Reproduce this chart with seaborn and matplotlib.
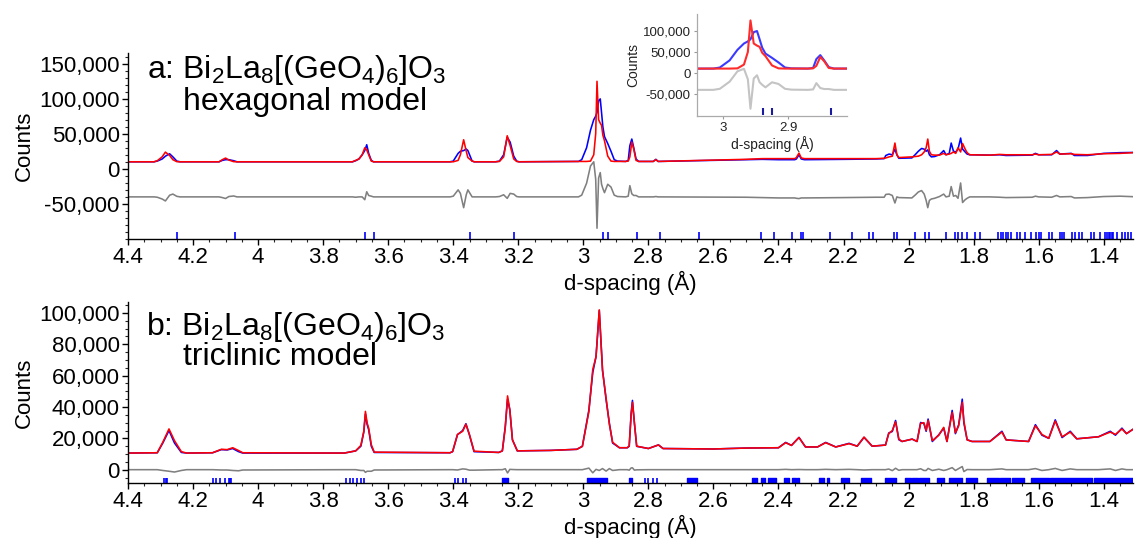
import numpy as np
import matplotlib
matplotlib.use("Agg")
import matplotlib.pyplot as plt
import seaborn as sns
from matplotlib.ticker import FuncFormatter, MultipleLocator

# ---------------- Panel a: hexagonal model ----------------
d_a = [4.40, 4.32, 4.31, 4.295, 4.285, 4.272, 4.262, 4.25, 4.24,
       4.12, 4.11, 4.10, 4.09, 4.075, 4.065,
       3.71, 3.70, 3.69, 3.68, 3.672, 3.666, 3.66, 3.652, 3.645,
       3.41, 3.40, 3.385, 3.378, 3.368, 3.36, 3.355, 3.342, 3.335,
       3.27, 3.258, 3.245, 3.234, 3.225, 3.214, 3.205, 3.198,
       3.015, 3.005, 2.99, 2.978, 2.968, 2.962, 2.958, 2.953, 2.948, 2.944,
       2.94, 2.935, 2.925, 2.915, 2.905, 2.895,
       2.87, 2.862, 2.857, 2.851, 2.845, 2.838, 2.83,
       2.785, 2.777, 2.77, 2.5, 2.45, 2.40, 2.35, 2.345, 2.337, 2.33, 2.32,
       2.2, 2.1, 2.075, 2.07, 2.06, 2.05, 2.042, 2.036, 2.03,
       1.99, 1.98, 1.97, 1.96, 1.952, 1.946, 1.941, 1.936, 1.93, 1.92,
       1.905, 1.892, 1.885, 1.875, 1.869, 1.862, 1.855, 1.848, 1.840,
       1.834, 1.826, 1.82, 1.812, 1.75, 1.72, 1.70, 1.62, 1.61, 1.60,
       1.56, 1.545, 1.535, 1.50, 1.49, 1.45, 1.40, 1.35, 1.31]
obs_a = [10000, 10000, 11000, 14000, 18000, 21400, 17000, 11000, 10000,
         10000, 12000, 13000, 13000, 11500, 10000,
         10000, 11500, 14000, 20000, 26000, 34300, 22000, 12000, 10000,
         10000, 11000, 22000, 25000, 26000, 28100, 26000, 11000, 10000,
         10000, 11000, 20000, 45000, 38000, 18000, 11000, 10000,
         10500, 13000, 30000, 55000, 70000, 75000, 80000, 97000, 99600, 80000,
         60000, 46000, 36000, 25000, 13000, 11000,
         10500, 12000, 33000, 42400, 30000, 14000, 10500,
         10500, 13500, 10500, 13000, 13500, 13000, 13000, 14000, 20000, 14000, 13000,
         13500, 14000, 14500, 19000, 21000, 20000, 28000, 20000, 15000,
         15500, 20000, 25000, 29000, 28000, 25000, 27000, 20000, 17000, 17500,
         20000, 26000, 20000, 22000, 36700, 25000, 24000, 28000, 43800,
         28000, 24000, 21000, 20000, 19500, 20000, 19000, 19500, 22000, 20000,
         20000, 26000, 21000, 22000, 19000, 19000, 22000, 23000, 23300]
calc_a = [10000, 10000, 11500, 17000, 23800, 19000, 13000, 10200, 10000,
          10000, 13000, 15300, 12500, 10200, 10000,
          10000, 12000, 14000, 20000, 30000, 27000, 20000, 11000, 10000,
          10000, 10000, 12000, 20000, 41400, 25000, 16000, 11000, 10000,
          10000, 10500, 17000, 47100, 33000, 14000, 10500, 10000,
          10500, 10500, 10500, 11000, 20000, 50000, 124700, 70000, 65000, 62000,
          48000, 40000, 18000, 11000, 10500, 10500,
          10500, 11000, 17000, 38000, 28000, 12000, 10500,
          10500, 13000, 10500, 13500, 14500, 14500, 14500, 16000, 22400, 15500, 14500,
          14500, 14500, 15000, 15500, 17000, 18000, 36700, 20000, 16000,
          17000, 17500, 18000, 20000, 24000, 30000, 42400, 25000, 20000, 19500,
          19500, 22000, 20000, 21000, 22000, 24000, 22000, 30000, 24000,
          36000, 28000, 23000, 20000, 19500, 20500, 20000, 20000, 21000, 20000,
          20500, 24000, 21000, 21500, 20500, 20000, 21500, 22000, 23000]
refl_a = [4.250, 4.072, 3.670, 3.643, 3.348, 3.213, 2.939, 2.925, 2.834,
          2.764, 2.644, 2.455, 2.415, 2.359, 2.332, 2.324, 2.242, 2.175,
          2.122, 2.109, 2.045, 2.037, 1.979, 1.948, 1.936, 1.886, 1.858,
          1.848, 1.835, 1.820, 1.796, 1.781, 1.725, 1.717, 1.710, 1.702,
          1.694, 1.685, 1.666, 1.656, 1.641, 1.625, 1.607, 1.600, 1.592,
          1.569, 1.559, 1.533, 1.528, 1.523, 1.498, 1.487, 1.475, 1.467,
          1.438, 1.431, 1.410, 1.395, 1.390, 1.385, 1.380, 1.375, 1.370,
          1.359, 1.344, 1.334, 1.324, 1.315]

# ---------------- Panel b: triclinic model ----------------
d_b = [4.40, 4.31, 4.293, 4.274, 4.257, 4.236, 4.22,
       4.14, 4.113, 4.095, 4.078, 4.06, 4.047,
       3.735, 3.70, 3.684, 3.675, 3.67, 3.665, 3.66, 3.652, 3.643,
       3.41, 3.402, 3.387, 3.371, 3.361, 3.35, 3.336,
       3.26, 3.249, 3.24, 3.233, 3.226, 3.218, 3.203,
       3.10, 3.02, 3.003, 2.983, 2.971, 2.961, 2.951, 2.941, 2.93, 2.92, 2.91, 2.889,
       2.865, 2.859, 2.853, 2.849, 2.843, 2.836, 2.80, 2.769, 2.755,
       2.60, 2.50, 2.40, 2.378, 2.36, 2.337, 2.317, 2.28, 2.255, 2.224,
       2.183, 2.158, 2.137, 2.112, 2.071, 2.061, 2.05, 2.04, 2.03, 2.02,
       1.989, 1.974, 1.963, 1.953, 1.946, 1.94, 1.927, 1.907, 1.892, 1.882,
       1.866, 1.856, 1.846, 1.835, 1.83, 1.82, 1.805, 1.75, 1.713, 1.70,
       1.631, 1.61, 1.59, 1.569, 1.549, 1.528, 1.503, 1.483, 1.416,
       1.38, 1.364, 1.344, 1.33, 1.31]
obs_b = [10600, 10800, 17000, 25000, 17000, 11000, 10600,
         10800, 12800, 12600, 13500, 11500, 10600,
         10600, 12000, 15000, 24000, 35500, 29000, 25500, 15000, 11000,
         10800, 11500, 22300, 25000, 29300, 22000, 11500,
         11000, 12000, 27600, 45000, 38200, 19100, 12000,
         12300, 13000, 14900, 38000, 62000, 72200, 101500, 63700, 44600, 29700, 17000, 14000,
         14000, 14900, 36100, 44200, 29700, 14900, 13500, 15800, 13500,
         13200, 13800, 14000, 17400, 15500, 20600, 14500, 14500, 17400, 14500,
         16800, 15000, 20600, 15000, 15700, 23400, 24400, 31400, 19100, 18000,
         19500, 18000, 30100, 29500, 24500, 32300, 18000, 22300, 26500, 18000,
         37800, 23000, 28700, 45000, 29800, 19100, 18000, 18000, 24500, 19000,
         18000, 28700, 22000, 20000, 31800, 20500, 24500, 19700, 21000,
         24500, 22000, 26500, 23000, 25800]
calc_b = [10600, 10800, 17500, 26000, 18500, 11500, 10600,
          10800, 13000, 12800, 14000, 12200, 10800,
          10600, 12000, 15500, 24500, 37200, 30000, 26500, 16000, 11200,
          10800, 11500, 22500, 24500, 29000, 22300, 11800,
          11000, 12000, 27000, 47100, 38000, 19000, 12000,
          12300, 13000, 14900, 37000, 64000, 72000, 102000, 63000, 45500, 29000, 17500, 14000,
          14000, 15200, 35000, 43000, 30000, 15000, 13500, 15800, 13500,
          13200, 13800, 14000, 17200, 15500, 20500, 14500, 14500, 17200, 14500,
          16600, 15000, 20800, 15000, 15700, 23000, 25000, 30500, 19500, 18000,
          19500, 18000, 29500, 30000, 25000, 31500, 18500, 22000, 27000, 18000,
          36500, 23500, 28000, 43000, 31000, 19000, 18000, 18000, 24000, 19000,
          18000, 28000, 22500, 20000, 31000, 21000, 24000, 19700, 21000,
          24000, 22500, 26000, 23000, 25800]
refl_b = [4.289, 4.284, 4.279, 4.139, 4.129, 4.118, 4.103, 4.090, 4.086, 4.083,
          3.730, 3.718, 3.707, 3.696, 3.685, 3.675,
          3.395, 3.384, 3.371, 3.361, 2.810, 2.800, 2.787, 2.775]
bands_b = [(3.249, 3.233), (2.988, 2.926), (2.861, 2.849), (2.680, 2.649),
           (2.480, 2.466), (2.455, 2.440), (2.431, 2.408), (2.383, 2.368),
           (2.357, 2.347), (2.342, 2.337), (2.275, 2.260), (2.250, 2.245),
           (2.209, 2.183), (2.147, 2.117), (2.071, 2.040), (2.011, 1.993),
           (1.988, 1.972), (1.969, 1.938), (1.912, 1.892), (1.876, 1.835),
           (1.825, 1.789), (1.759, 1.723), (1.718, 1.687), (1.682, 1.646),
           (1.625, 1.569), (1.564, 1.436), (1.431, 1.310)]

title_a = ["a: Bi$_2$La$_8$[(GeO$_4$)$_6$]O$_3$", "hexagonal model"]
title_b = ["b: Bi$_2$La$_8$[(GeO$_4$)$_6$]O$_3$", "triclinic model"]

# ---------------- style ----------------
sns.set_theme(style="ticks")
plt.rcParams["font.family"] = ["Liberation Sans", "DejaVu Sans"]
plt.rcParams["mathtext.fontset"] = "custom"
plt.rcParams["mathtext.rm"] = "Liberation Sans"
plt.rcParams["mathtext.it"] = "Liberation Sans"
plt.rcParams["mathtext.default"] = "regular"
plt.rcParams["text.color"] = "black"
plt.rcParams["axes.labelcolor"] = "black"

BLUE = "#0000ff"
RED = "#ff0000"
GREY = "#808080"

fig = plt.figure(figsize=(11.35, 5.38), dpi=100)
ax1 = fig.add_axes([128/1135, (538-239)/538, 1005/1135, 186/538])
ax2 = fig.add_axes([128/1135, (538-483)/538, 1005/1135, 181/538])
axin = fig.add_axes([697/1135, (538-116)/538, 150/1135, 102/538])

da, oa, ca = np.array(d_a), np.array(obs_a), np.array(calc_a)
db, ob, cb = np.array(d_b), np.array(obs_b), np.array(calc_b)
diff_a = oa - ca - 40000
diff_b = ob - cb

thou = FuncFormatter(lambda v, p: f"{v:,.0f}")
gfmt = FuncFormatter(lambda v, p: f"{v:g}")

def draw(ax, d, o, c, diff, lw, diff_col, blue=BLUE, red=RED):
    sns.lineplot(x=d, y=diff, ax=ax, color=diff_col, linewidth=lw, estimator=None, sort=False)
    sns.lineplot(x=d, y=o, ax=ax, color=blue, linewidth=lw, estimator=None, sort=False)
    sns.lineplot(x=d, y=c, ax=ax, color=red, linewidth=lw, estimator=None, sort=False)

def style_main(ax):
    ax.set_xlim(4.4, 1.31)
    ax.xaxis.set_major_locator(MultipleLocator(0.2))
    ax.xaxis.set_minor_locator(MultipleLocator(0.05))
    ax.xaxis.set_major_formatter(gfmt)
    ax.yaxis.set_major_formatter(thou)
    ax.tick_params(axis="both", which="major", labelsize=16, length=4, width=1,
                   direction="out", colors="black", pad=2)
    ax.tick_params(axis="both", which="minor", length=2, width=0.8, direction="out")
    for s in ["top", "right"]:
        ax.spines[s].set_visible(False)
    for s in ["left", "bottom"]:
        ax.spines[s].set_color("black")
        ax.spines[s].set_linewidth(1.0)
    ax.set_xlabel("d-spacing (Å)", fontsize=16, labelpad=2)
    ax.set_ylabel("Counts", fontsize=16, labelpad=3)
    ax.set_facecolor("none")

# panel a
draw(ax1, da, oa, ca, diff_a, 1.15, GREY)
ax1.vlines(refl_a, -100000, -90000, color=BLUE, linewidth=1.2)
style_main(ax1)
ax1.set_ylim(-100000, 165000)
ax1.set_yticks([-50000, 0, 50000, 100000, 150000])
ax1.yaxis.set_minor_locator(MultipleLocator(10000))
ax1.text(0.019, 0.866, title_a[0], transform=ax1.transAxes, fontsize=23, va="baseline")
ax1.text(0.055, 0.694, title_a[1], transform=ax1.transAxes, fontsize=23, va="baseline")

# panel b
draw(ax2, db, ob, cb, diff_b, 1.15, GREY)
ax2.vlines(refl_b, -8500, -5000, color=BLUE, linewidth=1.2)
ax2.broken_barh([(lo, hi - lo) for hi, lo in bands_b], (-8500, 3500), color=BLUE)
style_main(ax2)
ax2.set_ylim(-8500, 107000)
ax2.set_yticks([0, 20000, 40000, 60000, 80000, 100000])
ax2.yaxis.set_minor_locator(MultipleLocator(5000))
ax2.text(0.018, 0.818, title_b[0], transform=ax2.transAxes, fontsize=23, va="baseline")
ax2.text(0.055, 0.652, title_b[1], transform=ax2.transAxes, fontsize=23, va="baseline")

# inset
draw(axin, da, oa, ca, diff_a, 1.5, "#c4c4c4", blue="#3a3aff", red="#ff2a2a")
axin.vlines(refl_a, -100000, -84000, color="#1a1aa0", linewidth=1.5)
axin.set_xlim(3.04, 2.81)
axin.set_ylim(-102000, 140000)
axin.set_xticks([3.0, 2.9])
axin.set_yticks([-50000, 0, 50000, 100000])
axin.xaxis.set_major_formatter(gfmt)
axin.yaxis.set_major_formatter(thou)
axin.tick_params(axis="both", labelsize=9.5, length=2.5, width=0.8, colors="#999999",
                 labelcolor="#222222", pad=2)
for s in ["top", "right"]:
    axin.spines[s].set_visible(False)
for s in ["left", "bottom"]:
    axin.spines[s].set_color("#aaaaaa")
    axin.spines[s].set_linewidth(0.9)
axin.set_xlabel("d-spacing (Å)", fontsize=10, labelpad=1, color="#222222")
axin.set_ylabel("Counts", fontsize=10, labelpad=2, color="#222222")
axin.set_facecolor("white")

fig.savefig("out.png", dpi=100)
